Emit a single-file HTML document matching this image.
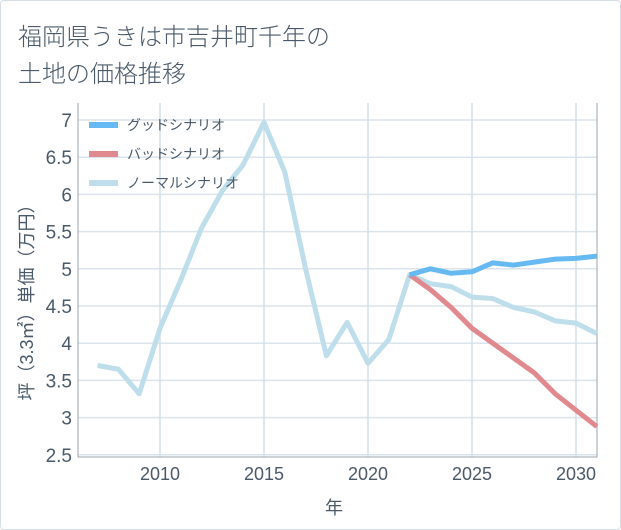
<!DOCTYPE html>
<html><head><meta charset="utf-8"><style>
body{margin:0;background:#fff;}
#wrap{position:relative;width:619px;height:528px;border:1px solid #d5dde6;border-radius:4px;background:#fff;font-family:"Liberation Sans","Noto Sans CJK JP",sans-serif;}
.t{position:absolute;left:17px;font-size:24px;color:#4a5a6a;font-weight:300;}
svg text{font-family:"Liberation Sans","Noto Sans CJK JP",sans-serif;}
</style></head><body>
<div id="wrap">
<div class="t" style="top:16px">福岡県うきは市吉井町千年の</div>
<div class="t" style="top:53px">土地の価格推移</div>
<svg id="chart" width="621" height="530" style="position:absolute;left:-1px;top:-1px"></svg>
</div>
<script>
const years=[2007,2008,2009,2010,2011,2012,2013,2014,2015,2016,2017,2018,2019,2020,2021,2022,2023,2024,2025,2026,2027,2028,2029,2030,2031];
const normalVals=[3.7,3.65,3.32,4.2,4.85,5.55,6.05,6.4,6.97,6.3,5.0,3.83,4.28,3.73,4.05,4.92,4.8,4.76,4.62,4.6,4.48,4.42,4.3,4.27,4.13];
const futureYears=[2022,2023,2024,2025,2026,2027,2028,2029,2030,2031];
const goodVals=[4.92,5.0,4.94,4.96,5.08,5.05,5.09,5.13,5.14,5.17];
const badVals=[4.92,4.72,4.48,4.2,4.0,3.8,3.6,3.32,3.1,2.88];
const xTicks=[2010,2015,2020,2025,2030];
const yTicks=[2.5,3,3.5,4,4.5,5,5.5,6,6.5,7];
const legendLabels=["グッドシナリオ","バッドシナリオ","ノーマルシナリオ"];
const colors=["#67b9f2","#e08a90","#bddeea"];
const L=78,R=597,T=103,B=457;
const x=v=>160+(v-2010)*20.8;
const y=v=>120+(7-v)*74.4;
const svg=document.getElementById('chart');
const NS='http://www.w3.org/2000/svg';
function mk(tag,attrs,parent){const e=document.createElementNS(NS,tag);for(const k in attrs)e.setAttribute(k,attrs[k]);(parent||svg).appendChild(e);return e;}
for(const v of yTicks){const l=mk('line',{x1:L,x2:R,y1:y(v),y2:y(v),stroke:'#dbe4ec','stroke-width':1.5});


const t=mk('text',{x:L-6,y:y(v)+7,'text-anchor':'end','font-size':19,fill:'#4a5a6a'});t.textContent=v;

}
for(const v of xTicks){const l=mk('line',{x1:x(v),x2:x(v),y1:T,y2:B,stroke:'#d3dfe9','stroke-width':1.5});


const t=mk('text',{x:x(v),y:B+23,'text-anchor':'middle','font-size':18,fill:'#4a5a6a'});t.textContent=v;

}
const frame=mk('path',{d:`M${L},${T}V${B}H${R}V${T}`,fill:'none',stroke:'#9aa4ae','stroke-width':1});


function line(xs,vs,c,name){const p=mk('polyline',{points:xs.map((v,i)=>x(v)+','+y(vs[i])).join(' '),fill:'none',stroke:c,'stroke-width':5,'stroke-linejoin':'round'});

}
line(years,normalVals,colors[2],'normal-scenario-line');
line(futureYears,badVals,colors[1],'bad-scenario-line');
line(futureYears,goodVals,colors[0],'good-scenario-line');
legendLabels.forEach((s,i)=>{const yy=125+i*29;
const g=mk('g',{});


mk('line',{x1:89,x2:118,y1:yy,y2:yy,stroke:colors[i],'stroke-width':6},g);
const t=mk('text',{x:127,y:yy+5,'font-size':14,fill:'#4a5a6a'},g);t.textContent=s;});
const xt=mk('text',{x:334,y:514,'text-anchor':'middle','font-size':18,fill:'#4a5a6a'});xt.textContent='年';


const yt=mk('text',{x:0,y:0,'text-anchor':'middle','font-size':18,fill:'#4a5a6a',transform:'translate(33,298) rotate(-90)'});yt.textContent='坪（3.3㎡）単価（万円）';


</script>
</body></html>
